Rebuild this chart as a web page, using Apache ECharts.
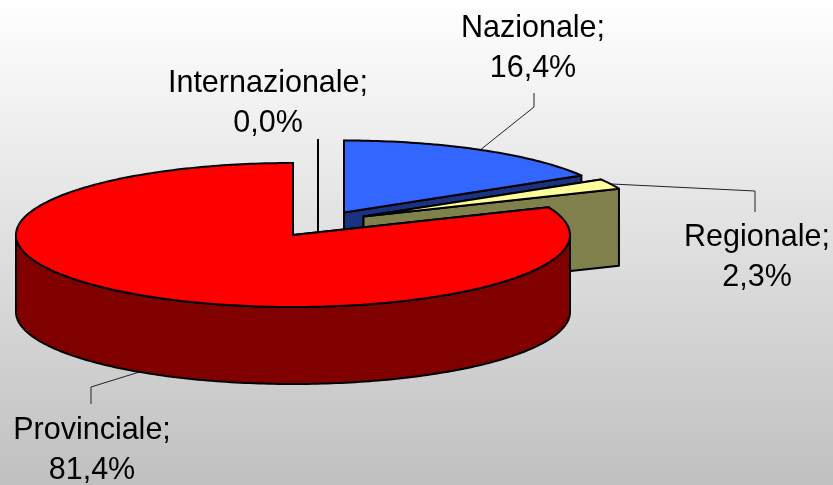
<!DOCTYPE html>
<html><head><meta charset="utf-8">
<style>html,body{margin:0;padding:0;background:#fff}#c{width:833px;height:485px}</style>
<script src="https://cdn.jsdelivr.net/npm/echarts@6/dist/echarts.min.js"></script>
</head><body><div id="c"></div>
<script>
const categories = ['Internazionale', 'Nazionale', 'Regionale', 'Provinciale'];
const values = [0.0, 16.4, 2.3, 81.4];

// Appearance and layout, separate from the data
const topColors = ['#000000', '#3366FF', '#FFFF99', '#FF0000'];
const wallColors = ['#000000', '#1A3380', '#80804D', '#800000'];
const centers = [[318, 212], [344, 212.5], [363.5, 216.5], [293, 235]];
const RX = 277, RY = 72, DEPTH = 77;
const drawOrder = [1, 2, 0, 3];
const labelPos = [[268, 84], [533, 29], [757, 238], [92, 431]];
const leaderBends = [null, [[534, 107], [534, 93]], [[755, 191], [755, 212]], [[91, 387], [91, 404]]];
const FONT = '30.5px "Liberation Sans", Arial, sans-serif';
const LINE_H = 40;

const total = values.reduce((a, b) => a + b, 0);
const starts = [];
values.reduce((acc, v, i) => { starts[i] = acc; return acc + v / total * 360; }, 0);
const pt = (c, deg, dy) => {
  const r = deg * Math.PI / 180;
  return [c[0] + RX * Math.sin(r), c[1] - RY * Math.cos(r) + (dy || 0)];
};
const down = (p) => [p[0], p[1] + DEPTH];
const lineStyle = (fill) => ({ fill, stroke: '#000', lineWidth: 2, lineJoin: 'round' });

function renderSlice(params, api) {
  const i = api.value(0);
  const a0 = starts[i], a1 = a0 + values[i] / total * 360;
  const c = centers[i];
  const children = [];
  const face = (a) => {
    const p = pt(c, a);
    children.push({ type: 'polygon', shape: { points: [c, p, down(p), down(c)] }, style: lineStyle(wallColors[i]) });
  };
  face(a0); face(a1);
  const f0 = Math.max(a0, 90), f1 = Math.min(a1, 270);
  if (f1 > f0) {
    const upper = [], lower = [];
    for (let a = f0; a <= f1 + 1e-6; a += 1) { upper.push(pt(c, a)); lower.unshift(pt(c, a, DEPTH)); }
    children.push({ type: 'polygon', shape: { points: upper.concat(lower) }, style: lineStyle(wallColors[i]) });
  }
  if (a1 > a0) {
    const top = [c];
    for (let a = a0; a < a1; a += 1) top.push(pt(c, a));
    top.push(pt(c, a1));
    children.push({ type: 'polygon', shape: { points: top }, style: lineStyle(topColors[i]) });
  }
  return { type: 'group', children };
}

function renderLabel(params, api) {
  const i = api.value(0);
  const children = [];
  const mid = starts[i] + values[i] / total * 180;
  if (leaderBends[i]) {
    const front = Math.cos(mid * Math.PI / 180) < 0;
    const s = pt(centers[i], mid, front ? DEPTH : 0);
    children.push({ type: 'polyline', shape: { points: [s].concat(leaderBends[i]) },
      style: { fill: 'none', stroke: '#222', lineWidth: 1 } });
  }
  const pct = values[i].toFixed(1).replace('.', ',') + '%';
  [categories[i] + ';', pct].forEach((t, k) => {
    children.push({ type: 'text', style: { x: labelPos[i][0], y: labelPos[i][1] + k * LINE_H, text: t,
      font: FONT, fill: '#000', align: 'center', verticalAlign: 'middle' } });
  });
  return { type: 'group', children };
}

const chart = echarts.init(document.getElementById('c'), null, { renderer: 'canvas' });
chart.setOption({
  animation: false,
  backgroundColor: new echarts.graphic.LinearGradient(0, 0, 0, 1, [
    { offset: 0, color: '#FFFFFF' }, { offset: 1, color: '#C0C0C0' }
  ]),
  series: [
    { type: 'custom', coordinateSystem: 'none', silent: true, z: 2, clip: false,
      encode: { value: 0 }, renderItem: renderSlice, data: drawOrder.map(i => [i]) },
    { type: 'custom', coordinateSystem: 'none', silent: true, z: 1, clip: false,
      encode: { value: 0 }, renderItem: renderLabel, data: categories.map((_, i) => [i]) }
  ]
});
</script></body></html>
